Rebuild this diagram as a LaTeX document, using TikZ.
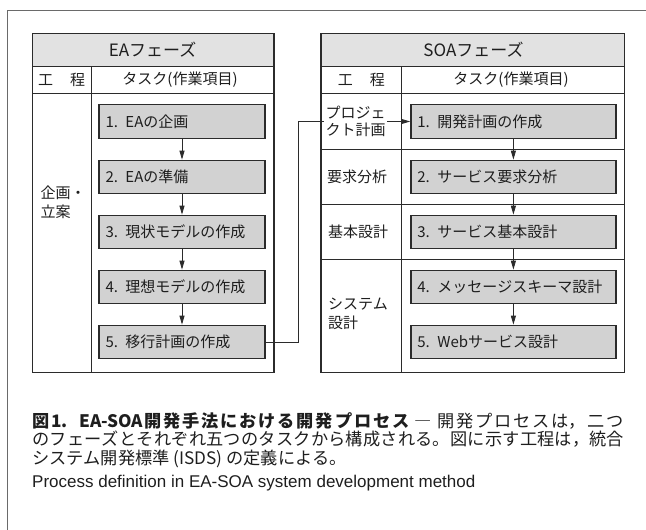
\documentclass[tikz,border=0pt]{standalone}
\usepackage{fontspec}
\setmainfont{Noto Sans CJK JP}
\newfontfamily\enfont{Liberation Sans}
\usetikzlibrary{arrows.meta}
\XeTeXlinebreaklocale "ja"
\XeTeXlinebreakskip=0pt plus 2pt
\definecolor{linec}{HTML}{2B2B2B}
\definecolor{hdrfill}{HTML}{E2E2E2}
\definecolor{boxfill}{HTML}{D2D2D2}
\definecolor{framec}{HTML}{6A6A6A}
\definecolor{txtc}{HTML}{1E1E1E}
\tikzset{
  tbl/.style={draw=linec, line width=1.2pt},
  divider/.style={draw=linec, line width=0.8pt},
  hdr/.style={fill=hdrfill},
  taskbox/.style={draw=linec, line width=1.2pt, fill=boxfill, minimum height=33.5pt,
    inner xsep=6.5pt, inner ysep=0pt, align=left, font=\fontsize{15}{17}\selectfont, text=txtc},
  eabox/.style={taskbox, text width=153pt},
  soabox/.style={taskbox, text width=192pt},
  arr/.style={draw=linec, line width=0.9pt, -{Triangle[width=5pt,length=9pt]}},
  lbl/.style={font=\fontsize{15}{18.5}\selectfont, text=txtc, inner sep=0pt},
  ttl/.style={font=\fontsize{17}{19}\selectfont, text=txtc, inner sep=0pt},
}
\begin{document}
\begin{tikzpicture}[x=1pt,y=-1pt]
\useasboundingbox (0,0) rectangle (646,530);
% outer frame
\draw[framec, line width=0.8pt] (7.3,530) -- (7.3,10) -- (646,10);
% EA table
\fill[hdr] (32.3,33.3) rectangle (274,66.7);
\draw[divider] (32.3,66.7) -- (274,66.7);
\draw[divider] (32.3,93.3) -- (274,93.3);
\draw[divider] (91,66.7) -- (91,372.7);
\draw[tbl] (32.3,33.3) rectangle (274,372.7);
% SOA table
\fill[hdr] (321,33.3) rectangle (624.3,66.7);
\draw[divider] (321,66.7) -- (624.3,66.7);
\draw[divider] (321,93.3) -- (624.3,93.3);
\draw[divider] (401.7,66.7) -- (401.7,372.7);
\draw[divider] (321,149.5) -- (624.3,149.5);
\draw[divider] (321,204.5) -- (624.3,204.5);
\draw[divider] (321,259.5) -- (624.3,259.5);
\draw[tbl] (321,33.3) rectangle (624.3,372.7);
% headers
\node[ttl] (eah) at (152.5,50) {EAフェーズ};
\node[ttl] (soah) at (473.5,50) {SOAフェーズ};
\node[lbl] (eak) at (61.7,80) {工\hspace{17pt}程};
\node[lbl] (eat) at (180,80) {タスク(作業項目)};
\node[lbl] (soak) at (361.4,80) {工\hspace{17pt}程};
\node[lbl] (soat) at (511,80) {タスク(作業項目)};
% EA tasks
\node[eabox] (e1) at (182,121.5) {1. EAの企画};
\node[eabox] (e2) at (182,177) {2. EAの準備};
\node[eabox] (e3) at (182,232) {3. 現状モデルの作成};
\node[eabox] (e4) at (182,287) {4. 理想モデルの作成};
\node[eabox] (e5) at (182,342) {5. 移行計画の作成};
% SOA tasks
\node[soabox] (s1) at (513.4,121.5) {1. 開発計画の作成};
\node[soabox] (s2) at (513.4,177) {2. サービス要求分析};
\node[soabox] (s3) at (513.4,232) {3. サービス基本設計};
\node[soabox] (s4) at (513.4,287) {4. メッセージスキーマ設計};
\node[soabox] (s5) at (513.4,342) {5. Webサービス設計};
% arrows
\draw[arr] (e1) -- (e2);
\draw[arr] (e2) -- (e3);
\draw[arr] (e3) -- (e4);
\draw[arr] (e4) -- (e5);
\draw[arr] (s1) -- (s2);
\draw[arr] (s2) -- (s3);
\draw[arr] (s3) -- (s4);
\draw[arr] (s4) -- (s5);
\coordinate (jog) at (298.3,121.5);
\draw[arr] (e5.east) -| (jog) -- (s1.west);
% process labels
\node[lbl, anchor=west, align=left] (p1) at (40.5,202.5) {企画・\\立案};
\node[lbl, anchor=west, align=left, fill=white, inner xsep=1.5pt, inner ysep=1pt,
  font=\fontsize{15}{17}\selectfont] (p2) at (324,121.5) {プロジェ\\クト計画};
\node[lbl, anchor=west] (p3) at (327,177) {要求分析};
\node[lbl, anchor=west] (p4) at (328,232) {基本設計};
\node[lbl, anchor=west, align=left] (p5) at (328,314) {システム\\設計};
% caption
\node[anchor=north west, inner sep=0pt, text width=592pt, align=justify,
  font=\fontsize{17.2}{18.3}\selectfont, text=txtc] (cap) at (32,412.5)
  {\noindent{\bfseries 図1.\ \ EA-SOA開発手法における開発プロセス} ― 開発プロセスは，二つ\linebreak
   のフェーズとそれぞれ五つのタスクから構成される。図に示す工程は，統合\linebreak
   システム開発標準 (ISDS) の定義による。};
\node[anchor=west, inner sep=0pt, font=\enfont\fontsize{17}{19}\selectfont, text=txtc] (eng) at (32,483)
  {Process definition in EA-SOA system development method};
\end{tikzpicture}
\end{document}
